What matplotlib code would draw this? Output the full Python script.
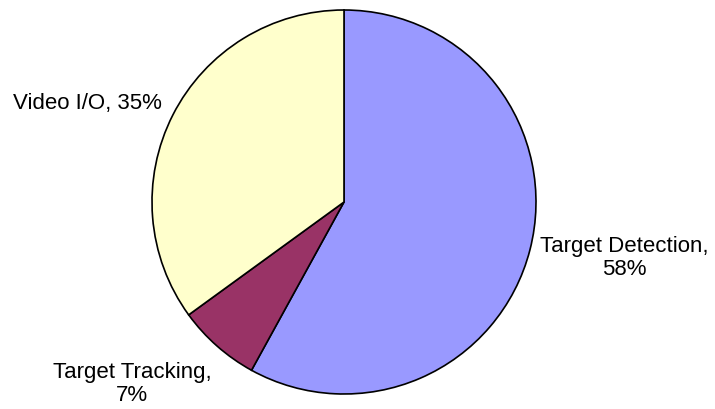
import matplotlib.pyplot as plt

# data
labels = ["Target Detection", "Target Tracking", "Video I/O"]
shares = [58, 7, 35]
colors = ["#9999FF", "#993366", "#FFFFCC"]

plt.rcParams['font.family'] = ['Liberation Sans', 'DejaVu Sans']

fig = plt.figure(figsize=(7.15, 4.09), dpi=100)
ax = fig.add_axes([0, 0, 1, 1])

# pie drawn in pixel-like coordinates (y axis flipped), so angles run
# the other way round: start at the top, go clockwise on screen
ax.pie(shares, colors=colors, startangle=-90, counterclock=True,
       center=(344, 202), radius=192,
       wedgeprops=dict(edgecolor="black", linewidth=1.2))

ax.set_xlim(0, 715)
ax.set_ylim(409, 0)
ax.set_aspect('equal')
ax.axis('off')

# labels "Name, NN%"
txt = ["%s, %d%%" % (l, s) for l, s in zip(labels, shares)]
ax.text(624, 258, txt[0].replace(", ", ",\n"), ha="center", va="center",
        fontsize=16, linespacing=1.1)
ax.text(132, 384, txt[1].replace(", ", ",\n"), ha="center", va="center",
        fontsize=16, linespacing=1.1)
ax.text(13, 103, txt[2], ha="left", va="center", fontsize=16)

fig.savefig("out.png", dpi=100)
